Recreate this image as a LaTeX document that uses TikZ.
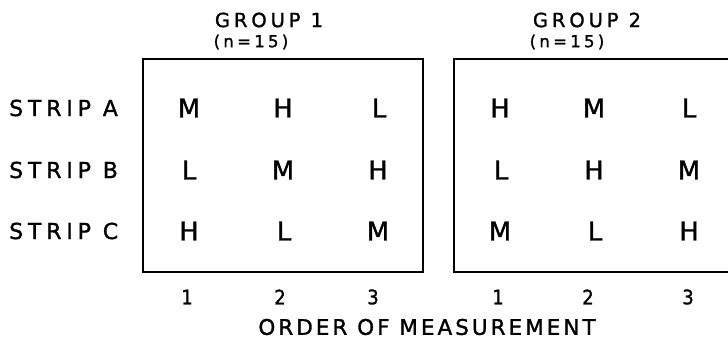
\documentclass[tikz,border=0pt]{standalone}
\usepackage{fontspec}
\setmainfont{DejaVu Sans}[FakeBold=1.3]
\newfontfamily\condfont{DejaVu Sans Condensed}[FakeBold=1.3]
\begin{document}
\begin{tikzpicture}[x=1pt,y=-1pt,
  frame/.style={draw, line width=1.9pt, minimum width=280pt, minimum height=213pt, inner sep=0pt},
  strip/.style={anchor=west, inner sep=0pt, font=\fontsize{22}{22}\selectfont\addfontfeatures{LetterSpace=22}},
  cell/.style={inner sep=0pt, font=\fontsize{26}{26}\selectfont},
  num/.style={inner sep=0pt, font=\condfont\fontsize{20}{20}\selectfont},
  grp/.style={inner sep=0pt, font=\fontsize{19.5}{19.5}\selectfont\addfontfeatures{LetterSpace=20}},
  cnt/.style={inner sep=0pt, font=\fontsize{16.5}{16.5}\selectfont\addfontfeatures{LetterSpace=20}},
  axis/.style={inner sep=0pt, font=\fontsize{21.5}{21.5}\selectfont\addfontfeatures{LetterSpace=14}}]
\useasboundingbox (0,0) rectangle (728,343);
\clip (0,0) rectangle (728,343);

% frames of the two groups
\node[frame] (g1) at (283,165.5) {};
\node[frame] (g2) at (594,165.5) {};

% group titles
\node[grp] (t1) at (269,20) {GROUP 1};
\node[cnt] (n1) at (251,42) {(n=15)};
\node[grp] (t2) at (587,20) {GROUP 2};
\node[cnt] (n2) at (567,42) {(n=15)};

% row labels
\node[strip] (sa) at (9,108) {STRIP A};
\node[strip] (sb) at (9,170) {STRIP B};
\node[strip] (sc) at (9,231) {STRIP C};

% group 1 cells
\node[cell] (a11) at (189,108) {M};
\node[cell] (a12) at (283,108) {H};
\node[cell] (a13) at (379,108) {L};
\node[cell] (b11) at (189,170) {L};
\node[cell] (b12) at (283,170) {M};
\node[cell] (b13) at (378,170) {H};
\node[cell] (c11) at (189,231) {H};
\node[cell] (c12) at (284,231) {L};
\node[cell] (c13) at (378,231) {M};

% group 2 cells
\node[cell] (a21) at (500,108) {H};
\node[cell] (a22) at (594,108) {M};
\node[cell] (a23) at (689,108) {L};
\node[cell] (b21) at (501,170) {L};
\node[cell] (b22) at (594,170) {H};
\node[cell] (b23) at (689,170) {M};
\node[cell] (c21) at (500,231) {M};
\node[cell] (c22) at (595,231) {L};
\node[cell] (c23) at (689,231) {H};

% order numbers
\node[num] (o11) at (187,297) {1};
\node[num] (o12) at (280,297) {2};
\node[num] (o13) at (373,297) {3};
\node[num] (o21) at (498,297) {1};
\node[num] (o22) at (588,297) {2};
\node[num] (o23) at (688,297) {3};

\node[axis] (ax) at (427,327) {ORDER OF MEASUREMENT};
\end{tikzpicture}
\end{document}
